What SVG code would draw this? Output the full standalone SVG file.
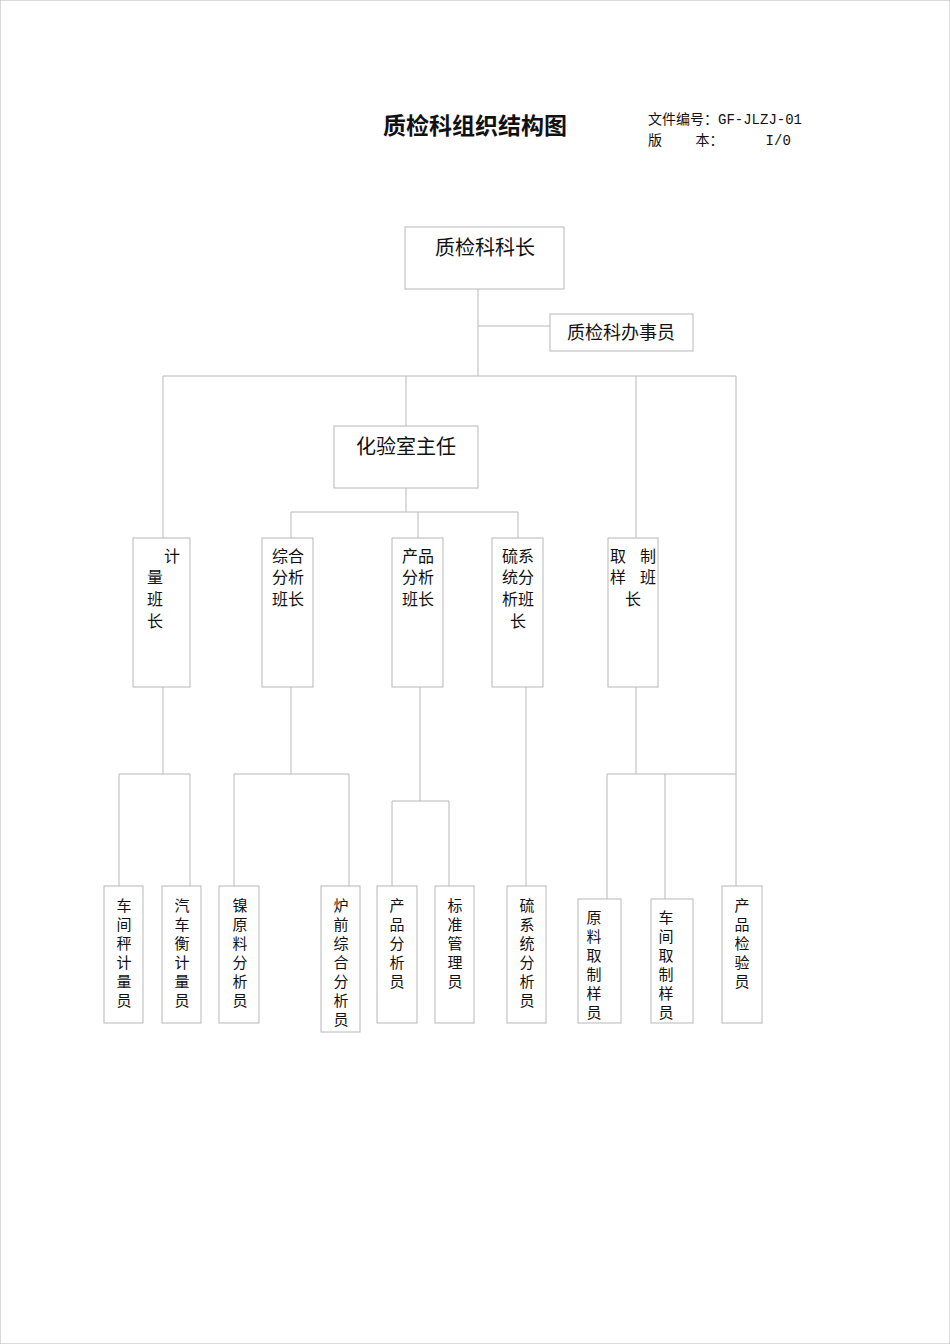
<svg xmlns="http://www.w3.org/2000/svg" width="950" height="1344" viewBox="0 0 950 1344">
<style>
rect{fill:#fff;stroke:#b8b8b8;stroke-width:1}
line{stroke:#b8b8b8;stroke-width:1}
text{font-family:"Noto Sans CJK SC","DejaVu Sans",sans-serif;fill:#111;font-size:16px}
.v{text-anchor:middle}
.s{font-size:15px}
.m{font-family:"Liberation Mono","Noto Sans CJK SC",monospace;font-size:14px}
</style>
<rect x="0" y="0" width="950" height="1344" fill="#fff" stroke="none"/>
<text x="475" y="134" style="font-size:23px;font-weight:bold" text-anchor="middle">质检科组织结构图</text>
<text class="m" x="648" y="124">文件编号：GF-JLZJ-01</text>
<text class="m" x="648" y="145" xml:space="preserve">版    本：     I/0</text>
<g id="connectors">
<line x1="478" y1="289" x2="478" y2="376"/><line x1="478" y1="326" x2="550" y2="326"/>
<line x1="163" y1="376" x2="736" y2="376"/>
<line x1="163" y1="376" x2="163" y2="538"/><line x1="406" y1="376" x2="406" y2="426"/>
<line x1="636" y1="376" x2="636" y2="547"/><line x1="736" y1="376" x2="736" y2="886"/>
<line x1="406" y1="488" x2="406" y2="512"/><line x1="291" y1="512" x2="518" y2="512"/>
<line x1="291" y1="512" x2="291" y2="538"/><line x1="418" y1="512" x2="418" y2="538"/><line x1="518" y1="512" x2="518" y2="538"/>
<line x1="163" y1="687" x2="163" y2="774"/><line x1="119" y1="774" x2="190" y2="774"/>
<line x1="119" y1="774" x2="119" y2="886"/><line x1="190" y1="774" x2="190" y2="886"/>
<line x1="291" y1="687" x2="291" y2="774"/><line x1="234" y1="774" x2="349" y2="774"/>
<line x1="234" y1="774" x2="234" y2="886"/><line x1="349" y1="774" x2="349" y2="886"/>
<line x1="420" y1="687" x2="420" y2="801"/><line x1="392" y1="801" x2="449" y2="801"/>
<line x1="392" y1="801" x2="392" y2="886"/><line x1="449" y1="801" x2="449" y2="886"/>
<line x1="526" y1="687" x2="526" y2="886"/>
<line x1="636" y1="687" x2="636" y2="774"/><line x1="607" y1="774" x2="736" y2="774"/>
<line x1="607" y1="774" x2="607" y2="899"/><line x1="665" y1="774" x2="665" y2="899"/>
</g>
<g id="n-head"><rect x="405" y="227" width="159" height="62"/><text x="485" y="255" style="font-size:20px" class="v">质检科科长</text></g>
<g id="n-clerk"><rect x="550" y="314" width="143" height="37"/><text x="621" y="339" style="font-size:18px" class="v">质检科办事员</text></g>
<g id="n-lab"><rect x="334" y="426" width="144" height="62"/><text x="406" y="454" style="font-size:20px" class="v">化验室主任</text></g>
<g id="n-jl"><rect x="133" y="538" width="57" height="149"/><text x="164" y="562">计</text><text x="147" y="583">量</text><text x="147" y="605">班</text><text x="147" y="627">长</text></g>
<g id="n-zh"><rect x="262" y="538" width="51" height="149"/><text x="288" y="562" class="v">综合</text><text x="288" y="583" class="v">分析</text><text x="288" y="605" class="v">班长</text></g>
<g id="n-cp"><rect x="392" y="538" width="51" height="149"/><text x="418" y="562" class="v">产品</text><text x="418" y="583" class="v">分析</text><text x="418" y="605" class="v">班长</text></g>
<g id="n-lx"><rect x="492" y="538" width="51" height="149"/><text x="518" y="562" class="v">硫系</text><text x="518" y="583" class="v">统分</text><text x="518" y="605" class="v">析班</text><text x="518" y="627" class="v">长</text></g>
<g id="n-qz"><rect x="608" y="538" width="50" height="149"/><text x="610" y="562">取</text><text x="640" y="562">制</text><text x="610" y="583">样</text><text x="640" y="583">班</text><text x="633" y="605" class="v">长</text></g>
<g id="b1" class="s"><rect x="104" y="886" width="39" height="137"/><text class="v s" x="124" y="911">车</text><text class="v s" x="124" y="930">间</text><text class="v s" x="124" y="949">秤</text><text class="v s" x="124" y="968">计</text><text class="v s" x="124" y="987">量</text><text class="v s" x="124" y="1006">员</text></g>
<g id="b2"><rect x="162" y="886" width="39" height="137"/><text class="v s" x="182" y="911">汽</text><text class="v s" x="182" y="930">车</text><text class="v s" x="182" y="949">衡</text><text class="v s" x="182" y="968">计</text><text class="v s" x="182" y="987">量</text><text class="v s" x="182" y="1006">员</text></g>
<g id="b3"><rect x="219" y="886" width="40" height="137"/><text class="v s" x="240" y="911">镍</text><text class="v s" x="240" y="930">原</text><text class="v s" x="240" y="949">料</text><text class="v s" x="240" y="968">分</text><text class="v s" x="240" y="987">析</text><text class="v s" x="240" y="1006">员</text></g>
<g id="b4"><rect x="321" y="886" width="39" height="146"/><text class="v s" x="341" y="911">炉</text><text class="v s" x="341" y="930">前</text><text class="v s" x="341" y="949">综</text><text class="v s" x="341" y="968">合</text><text class="v s" x="341" y="987">分</text><text class="v s" x="341" y="1006">析</text><text class="v s" x="341" y="1025">员</text></g>
<g id="b5"><rect x="377" y="886" width="40" height="137"/><text class="v s" x="397" y="911">产</text><text class="v s" x="397" y="930">品</text><text class="v s" x="397" y="949">分</text><text class="v s" x="397" y="968">析</text><text class="v s" x="397" y="987">员</text></g>
<g id="b6"><rect x="435" y="886" width="39" height="137"/><text class="v s" x="455" y="911">标</text><text class="v s" x="455" y="930">准</text><text class="v s" x="455" y="949">管</text><text class="v s" x="455" y="968">理</text><text class="v s" x="455" y="987">员</text></g>
<g id="b7"><rect x="507" y="886" width="39" height="137"/><text class="v s" x="527" y="911">硫</text><text class="v s" x="527" y="930">系</text><text class="v s" x="527" y="949">统</text><text class="v s" x="527" y="968">分</text><text class="v s" x="527" y="987">析</text><text class="v s" x="527" y="1006">员</text></g>
<g id="b8"><rect x="578" y="899" width="43" height="124"/><text class="v s" x="594" y="923">原</text><text class="v s" x="594" y="942">料</text><text class="v s" x="594" y="961">取</text><text class="v s" x="594" y="980">制</text><text class="v s" x="594" y="999">样</text><text class="v s" x="594" y="1018">员</text></g>
<g id="b9"><rect x="651" y="899" width="42" height="124"/><text class="v s" x="666" y="923">车</text><text class="v s" x="666" y="942">间</text><text class="v s" x="666" y="961">取</text><text class="v s" x="666" y="980">制</text><text class="v s" x="666" y="999">样</text><text class="v s" x="666" y="1018">员</text></g>
<g id="b10"><rect x="722" y="886" width="40" height="137"/><text class="v s" x="742" y="911">产</text><text class="v s" x="742" y="930">品</text><text class="v s" x="742" y="949">检</text><text class="v s" x="742" y="968">验</text><text class="v s" x="742" y="987">员</text></g>
</svg>
